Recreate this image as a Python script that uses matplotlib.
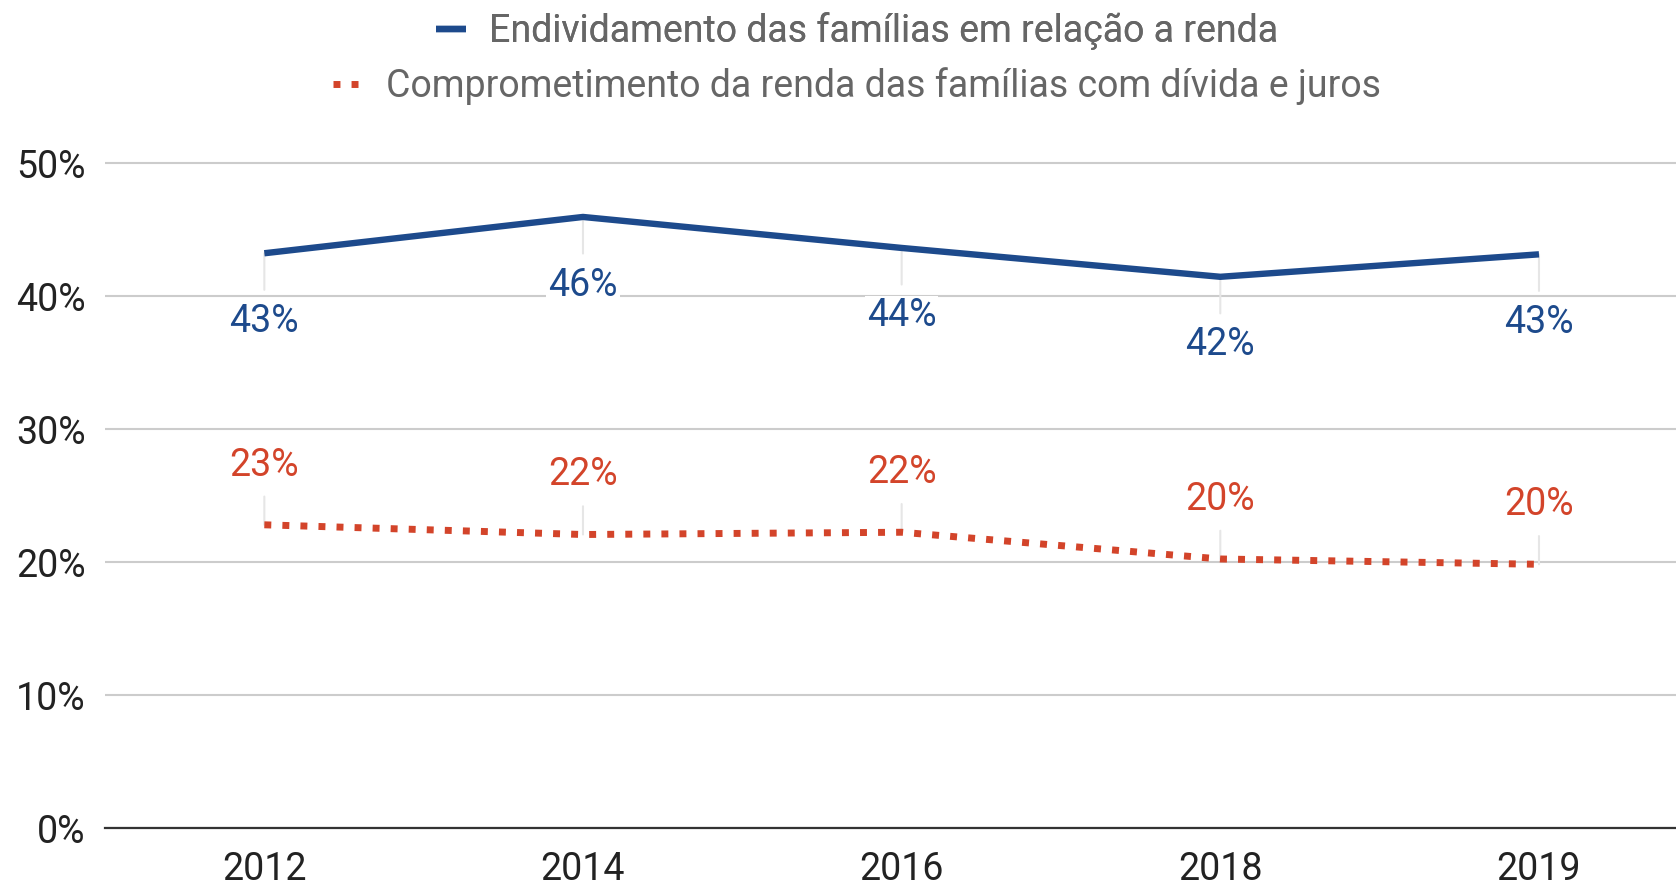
import matplotlib
matplotlib.use("Agg")
import matplotlib.pyplot as plt
from matplotlib.lines import Line2D

plt.rcParams['font.family'] = ['Roboto', 'DejaVu Sans']

anos = ["2012", "2014", "2016", "2018", "2019"]
endividamento = [43.25, 45.98, 43.65, 41.48, 43.17]
comprometimento = [22.83, 22.10, 22.27, 20.26, 19.86]
rot_endiv = ["43%", "46%", "44%", "42%", "43%"]
rot_comp = ["23%", "22%", "22%", "20%", "20%"]
y_ticks = [0, 10, 20, 30, 40, 50]

AZUL = "#1d4a8c"
VERMELHO = "#d3442a"
FS = 27

fig = plt.figure(figsize=(16.76, 8.86), dpi=100)
ax = fig.add_axes([105 / 1676, 57.6 / 886, 1 - 105 / 1676, (828.4 - 150.2) / 886])

x = list(range(len(anos)))
ax.plot(x, endividamento, color=AZUL, lw=4.6, solid_capstyle="butt", zorder=4)
ax.plot(x, comprometimento, color=VERMELHO, lw=5, linestyle=(0, (1, 1.6)),
        dash_capstyle="butt", zorder=4)

for i in x:
    ax.annotate(rot_endiv[i], (i, endividamento[i]), xytext=(0, -49),
                textcoords="offset points", ha="center", va="center",
                fontsize=FS, color=AZUL, zorder=3,
                bbox=dict(boxstyle="square,pad=0.05", fc="white", ec="none"),
                arrowprops=dict(arrowstyle="-", color="#e6e6e6", lw=1.5,
                                shrinkA=8, shrinkB=0))
    ax.annotate(rot_comp[i], (i, comprometimento[i]), xytext=(0, 43),
                textcoords="offset points", ha="center", va="center",
                fontsize=FS, color=VERMELHO, zorder=3,
                bbox=dict(boxstyle="square,pad=0.05", fc="white", ec="none"),
                arrowprops=dict(arrowstyle="-", color="#e6e6e6", lw=1.5,
                                shrinkA=8, shrinkB=0))

ax.set_xlim(-0.5, 4.43)
ax.set_ylim(0, 51)
ax.set_xticks(x)
ax.set_xticklabels(anos)
ax.set_yticks(y_ticks)
ax.set_yticklabels([f"{v}%" for v in y_ticks])
ax.tick_params(axis="both", length=0, labelsize=FS, colors="#222222")
ax.tick_params(axis="x", pad=16)
ax.tick_params(axis="y", pad=14)
ax.grid(axis="y", color="#cccccc", lw=1.5, zorder=0)
ax.set_axisbelow(True)
for s in ["top", "right", "left"]:
    ax.spines[s].set_visible(False)
ax.spines["bottom"].set_color("#333333")
ax.spines["bottom"].set_linewidth(1.6)

h1 = Line2D([], [], color=AZUL, lw=4.6, solid_capstyle="butt")
h2 = Line2D([], [], color=VERMELHO, lw=5, linestyle=(0, (1, 1.6)), dash_capstyle="butt")
leg1 = fig.legend([h1], ["Endividamento das famílias em relação a renda"],
                  loc="center", bbox_to_anchor=(857 / 1676, 1 - 31 / 886),
                  frameon=False, fontsize=FS, handlelength=0.8, handletextpad=0.6,
                  labelcolor="#666666")
leg2 = fig.legend([h2], ["Comprometimento da renda das famílias com dívida e juros"],
                  loc="center", bbox_to_anchor=(857 / 1676, 1 - 86 / 886),
                  frameon=False, fontsize=FS, handlelength=0.8, handletextpad=0.6,
                  labelcolor="#666666")
fig.add_artist(leg1)

fig.savefig("out.png", dpi=100, facecolor="white")
